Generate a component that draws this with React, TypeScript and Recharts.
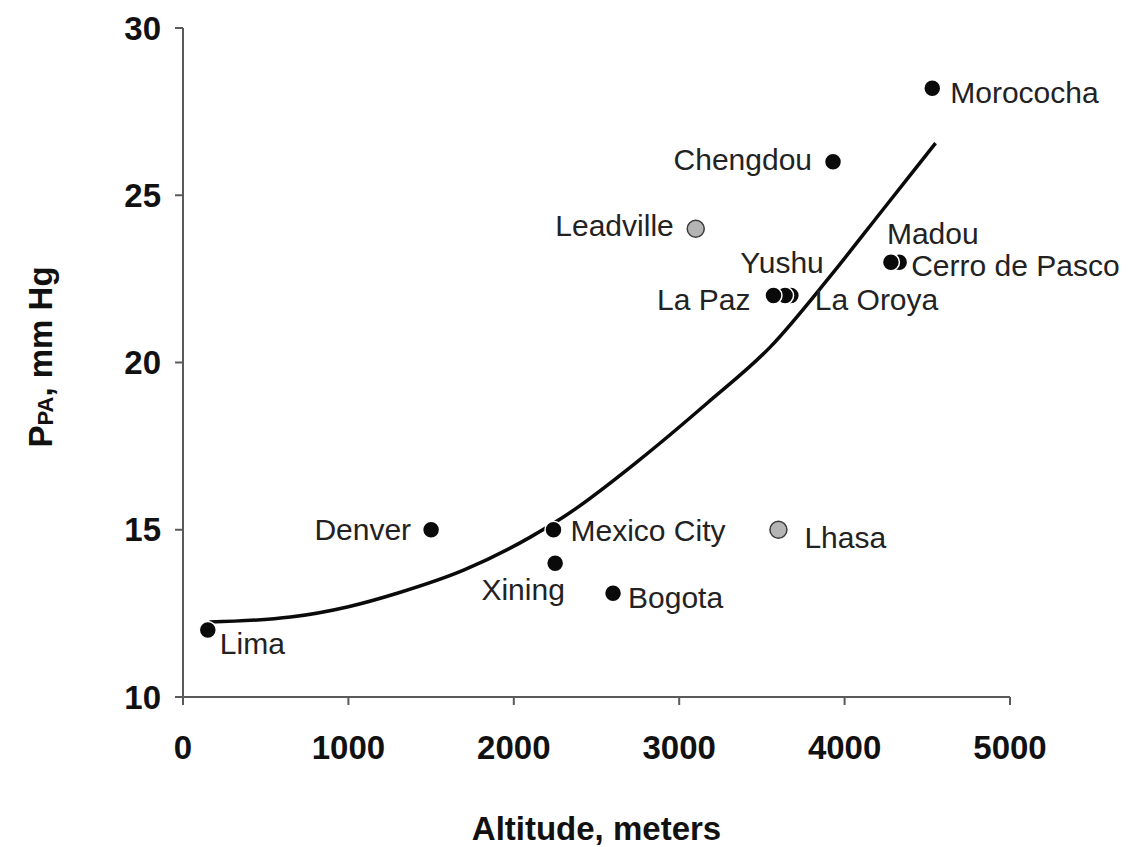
import {
  ComposedChart,
  Line,
  Scatter,
  XAxis,
  YAxis,
} from "recharts";

// sites (altitude in m, mean PPA in mm Hg)
const sites = [
  "Lima",
  "Denver",
  "Mexico City",
  "Xining",
  "Bogota",
  "Lhasa",
  "Leadville",
  "Chengdou",
  "La Oroya",
  "Yushu",
  "La Paz",
  "Cerro de Pasco",
  "Madou",
  "Morococha",
];
const altitudes = [150, 1500, 2240, 2250, 2600, 3600, 3100, 3930, 3675, 3640, 3570, 4330, 4280, 4530];
const ppaValues = [12, 15, 15, 14, 13.1, 15, 24, 26, 22, 22, 22, 23, 23, 28.2];
const greySites = ["Lhasa", "Leadville"];

// fitted curve, points
const curveAltitude = [160, 650, 1000, 1300, 1700, 2100, 2300, 2760, 3170, 3550, 3910, 4230, 4550];
const curvePpa = [12.24, 12.39, 12.7, 13.11, 13.8, 14.78, 15.38, 17.09, 18.79, 20.46, 22.56, 24.56, 26.56];

const xTicks = [0, 1000, 2000, 3000, 4000, 5000];
const yTicks = [10, 15, 20, 25, 30];

const labelPos: Record<string, { dx: number; dy: number; anchor: string }> = {
  Lima: { dx: 12, dy: 13, anchor: "start" },
  Denver: { dx: -20, dy: 0, anchor: "end" },
  "Mexico City": { dx: 17, dy: 1, anchor: "start" },
  Xining: { dx: -32, dy: 26, anchor: "middle" },
  Bogota: { dx: 15, dy: 4, anchor: "start" },
  Lhasa: { dx: 26, dy: 8, anchor: "start" },
  Leadville: { dx: -22, dy: -3, anchor: "end" },
  Chengdou: { dx: -21, dy: -2, anchor: "end" },
  "La Oroya": { dx: 24, dy: 4, anchor: "start" },
  Yushu: { dx: -3, dy: -33, anchor: "middle" },
  "La Paz": { dx: -23, dy: 4, anchor: "end" },
  "Cerro de Pasco": { dx: 12, dy: 3, anchor: "start" },
  Madou: { dx: -4, dy: -29, anchor: "start" },
  Morococha: { dx: 18, dy: 4, anchor: "start" },
};

const curveData = curveAltitude.map((x, i) => ({ x, y: curvePpa[i] }));
const siteData = sites.map((name, i) => ({
  name,
  x: altitudes[i],
  y: ppaValues[i],
  grey: greySites.includes(name),
}));

const AXIS = "#5a5a5a";
const FONT = "'Liberation Sans', Arial, sans-serif";

function SiteDot(props: any) {
  const { cx, cy, payload } = props;
  const pos = labelPos[payload.name];
  return (
    <g>
      <circle
        cx={cx}
        cy={cy}
        r={8.5}
        fill={payload.grey ? "#b4b4b4" : "#0a0a0a"}
        stroke={payload.grey ? "#3a3a3a" : "#ffffff"}
        strokeWidth={1.5}
      />
      <text
        x={cx + pos.dx}
        y={cy + pos.dy}
        textAnchor={pos.anchor as any}
        dominantBaseline="central"
        fontFamily={FONT}
        fontSize={30}
        fill="#222"
      >
        {payload.name}
      </text>
    </g>
  );
}

function XTitle(props: any) {
  const { viewBox } = props;
  return (
    <text
      x={viewBox.x + viewBox.width / 2}
      y={viewBox.y + 143}
      textAnchor="middle"
      fontFamily={FONT}
      fontWeight="bold"
      fontSize={33}
      fill="#111"
    >
      Altitude, meters
    </text>
  );
}

function YTitle() {
  const cx = 32;
  const cy = 349;
  return (
    <text
      x={cx}
      y={cy}
      transform={`rotate(-90 ${cx} ${cy})`}
      textAnchor="middle"
      dominantBaseline="central"
      fontFamily={FONT}
      fontWeight="bold"
      fontSize={33}
      fill="#111"
    >
      P
      <tspan fontSize={22} dy={5}>
        PA
      </tspan>
      <tspan dy={-5}>, mm Hg</tspan>
    </text>
  );
}

export default function App() {
  return (
    <div style={{ width: 1126, height: 839 }}>
      <ComposedChart
        width={1126}
        height={839}
        margin={{ top: 20, right: 124, bottom: 90, left: 100 }}
      >
        <XAxis
          dataKey="x"
          type="number"
          domain={[0, 5000]}
          ticks={xTicks}
          stroke={AXIS}
          strokeWidth={2}
          tickSize={8}
          tickMargin={31}
          height={60}
          tick={{ fill: "#111", fontFamily: FONT, fontWeight: "bold", fontSize: 33 }}
          label={<XTitle />}
        />
        <YAxis
          dataKey="y"
          type="number"
          domain={[10, 30]}
          ticks={yTicks}
          stroke={AXIS}
          strokeWidth={2}
          tickSize={8}
          tickMargin={14}
          width={75}
          tick={{ fill: "#111", fontFamily: FONT, fontWeight: "bold", fontSize: 33 }}
        />
        <Line
          data={curveData}
          dataKey="y"
          type="monotone"
          stroke="#0a0a0a"
          strokeWidth={3.5}
          dot={false}
          isAnimationActive={false}
        />
        <Scatter
          data={siteData}
          dataKey="y"
          shape={<SiteDot />}
          isAnimationActive={false}
        />
        <YTitle />
      </ComposedChart>
    </div>
  );
}
